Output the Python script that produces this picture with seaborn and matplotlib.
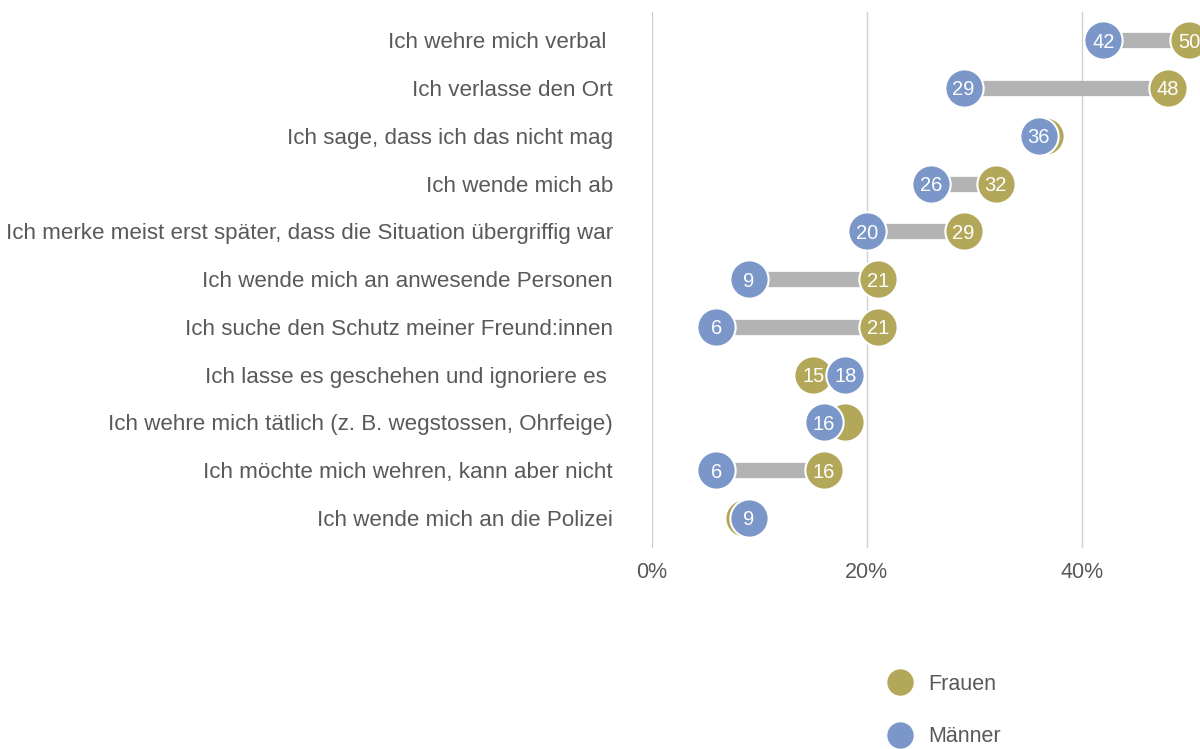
import pandas as pd
import matplotlib
matplotlib.use('Agg')
import matplotlib.pyplot as plt
import seaborn as sns
from matplotlib.lines import Line2D

# data (percent)
categories = [
    'Ich wehre mich verbal ',
    'Ich verlasse den Ort',
    'Ich sage, dass ich das nicht mag',
    'Ich wende mich ab',
    'Ich merke meist erst später, dass die Situation übergriffig war',
    'Ich wende mich an anwesende Personen',
    'Ich suche den Schutz meiner Freund:innen',
    'Ich lasse es geschehen und ignoriere es ',
    'Ich wehre mich tätlich (z. B. wegstossen, Ohrfeige)',
    'Ich möchte mich wehren, kann aber nicht',
    'Ich wende mich an die Polizei',
]
frauen = [50, 48, 36.6, 32, 29, 21, 21, 15, 18, 16, 8.6]
maenner = [42, 29, 36, 26, 20, 9, 6, 18, 16, 6, 9]
x_ticks = [0, 20, 40]
x_ticklabels = ['0%', '20%', '40%']

FRAUEN_COL = '#b3a85a'
MAENNER_COL = '#7b96c8'
TEXT_COL = '#595959'

sns.set_style('white')
plt.rcParams['font.family'] = ['Liberation Sans', 'DejaVu Sans']

df = pd.DataFrame({'cat': categories, 'Frauen': frauen, 'Männer': maenner})
df['pos'] = range(len(df))
long = df.melt(id_vars=['cat', 'pos'], value_vars=['Frauen', 'Männer'],
               var_name='gruppe', value_name='wert')

fig = plt.figure(figsize=(12, 7.49), dpi=100)
ax = fig.add_axes([652 / 1200, 1 - 548 / 749, 1 - 652 / 1200, (548 - 12) / 749])

# connecting bars
ax.hlines(df['pos'], df[['Frauen', 'Männer']].min(axis=1), df[['Frauen', 'Männer']].max(axis=1),
          color='#b3b3b3', linewidth=11, zorder=2)

# dots, Männer drawn on top
for grp, col, z in [('Frauen', FRAUEN_COL, 3), ('Männer', MAENNER_COL, 5)]:
    sub = long[long['gruppe'] == grp]
    sns.scatterplot(data=sub, x='wert', y='pos', color=col, s=760, edgecolor='white',
                    linewidth=1.5, ax=ax, zorder=z, clip_on=False, legend=False)
    for _, r in sub.iterrows():
        # labels of Frauen dots hidden behind a Männer dot are left out
        if grp == 'Frauen' and abs(r['wert'] - df.loc[r['pos'], 'Männer']) < 2.5:
            continue
        ax.text(r['wert'], r['pos'], f"{r['wert']:.0f}", color='white', fontsize=14.5,
                ha='center', va='center_baseline', zorder=z + 0.5, clip_on=False)

ax.set_xlim(0, 51)
ax.set_ylim(len(df) - 1 + 0.63, -0.59)
ax.set_xticks(x_ticks)
ax.set_xticklabels(x_ticklabels, color=TEXT_COL, fontsize=15.5)
ax.set_yticks(df['pos'])
ax.set_yticklabels(categories, color=TEXT_COL, fontsize=16.1)
ax.tick_params(axis='y', length=0, pad=28)
ax.tick_params(axis='x', length=6, color='#cccccc', pad=4)
ax.set_xlabel('')
ax.set_ylabel('')
for t in x_ticks:
    ax.axvline(t, color='#d0d0d0', linewidth=1, zorder=1)
for s in ax.spines.values():
    s.set_visible(False)

handles = [Line2D([], [], marker='o', linestyle='', markersize=18, color=FRAUEN_COL, label='Frauen'),
           Line2D([], [], marker='o', linestyle='', markersize=18, color=MAENNER_COL, label='Männer')]
leg = fig.legend(handles=handles, loc='upper left', bbox_to_anchor=(878 / 1200, 1 - 674 / 749),
                 frameon=False, fontsize=15.5, labelspacing=1.45, handletextpad=0.35,
                 borderpad=0, borderaxespad=0)
for t in leg.get_texts():
    t.set_color(TEXT_COL)

fig.savefig('out.png', dpi=100)
